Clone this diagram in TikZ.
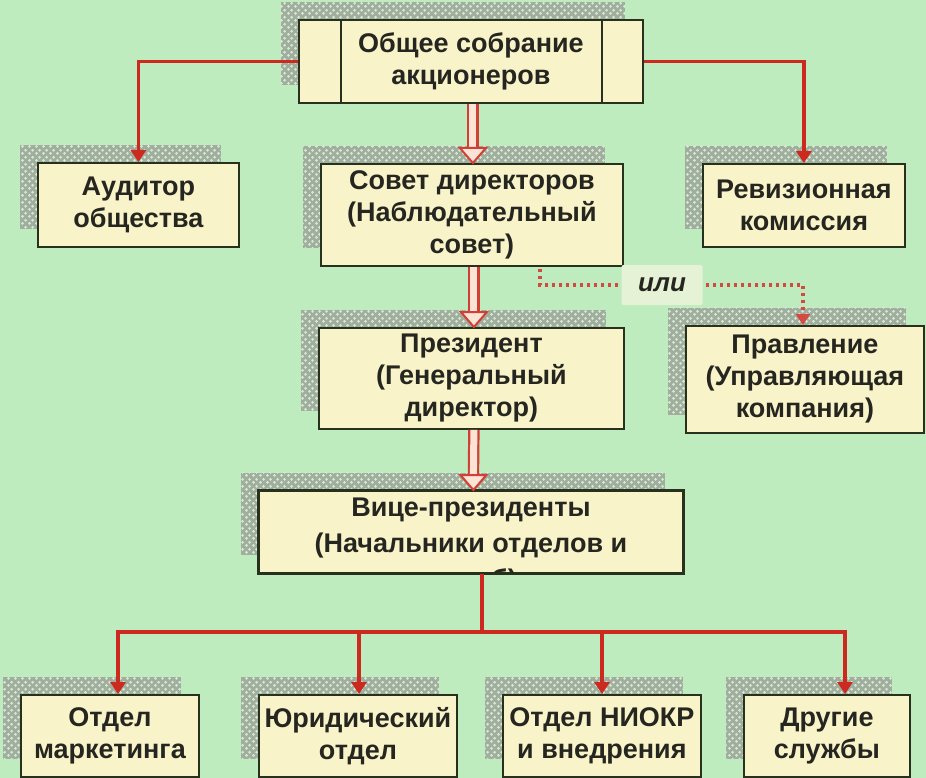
\documentclass[tikz,border=0pt]{standalone}
\usepackage{fontspec}
\setmainfont{Liberation Sans}
\usetikzlibrary{arrows.meta,shadows,patterns.meta,calc}
\definecolor{bg}{HTML}{BFECBF}
\definecolor{boxfill}{HTML}{F8F3C9}
\definecolor{boxline}{HTML}{28301E}
\definecolor{txt}{HTML}{262620}
\definecolor{lnred}{HTML}{CC2A1E}
\definecolor{dblfill}{HTML}{FBE3D6}
\definecolor{shadowgrey}{HTML}{A0AE9E}
\definecolor{knitlight}{HTML}{D8E8D4}
\definecolor{orfill}{HTML}{E6F2D6}
\tikzdeclarepattern{
  name=knit,
  type=uncolored,
  bounding box={(0pt,0pt) and (7pt,7pt)},
  tile size={(7pt,7pt)},
  code={
    \fill (1.75pt,1.75pt) circle (1.7pt);
    \fill (5.25pt,5.25pt) circle (1.7pt);
  }
}
\tikzset{
  orgbox/.style={draw=boxline, line width=1.8pt, fill=boxfill, text=txt,
    font=\bfseries\fontsize{27}{32}\selectfont, align=center, inner sep=0pt,
    anchor=north west,
    general shadow={shadow xshift=-18pt, shadow yshift=18pt, fill=shadowgrey},
    general shadow={shadow xshift=-18pt, shadow yshift=18pt, pattern=knit, pattern color=knitlight}},
  redline/.style={draw=lnred, line width=3.5pt},
  redarrow/.style={redline, -{Triangle[length=12pt,width=15pt]}},
  dotred/.style={draw=lnred!85!white, line width=3.5pt, dash pattern=on 3.5pt off 3.5pt,
    -{Triangle[length=11pt,width=14pt]}},
  dblshaft/.style={draw=lnred!90!white, line width=2.2pt, double=dblfill, double distance=7pt},
  dblhead/.style={draw=lnred!90!white, line width=2pt, fill=dblfill, line join=miter},
  ortext/.style={fill=orfill, text=txt, font=\bfseries\itshape\fontsize{26}{30}\selectfont,
    minimum width=81pt, minimum height=40pt, inner sep=0pt, rounded corners=2pt}
}
\begin{document}
\begin{tikzpicture}[x=1pt,y=-1pt]
\fill[bg] (0,0) rectangle (926,778);
\useasboundingbox (0,0) rectangle (926,778);

% boxes
\node[orgbox, minimum width=344pt, minimum height=83pt, text depth=6pt] (top) at (298,19) {Общее собрание\\акционеров};
\node[orgbox, minimum width=201pt, minimum height=84pt] (aud) at (37,162) {Аудитор\\общества};
\node[orgbox, minimum width=202pt, minimum height=83pt] (rev) at (702,163) {Ревизионная\\комиссия};
\node[orgbox, minimum width=302pt, minimum height=102pt] (sov) at (320,163) {Совет директоров\\(Наблюдательный\\совет)};
\node[orgbox, minimum width=305pt, minimum height=101pt] (pres) at (318,327) {Президент\\(Генеральный\\директор)};
\node[orgbox, minimum width=238pt, minimum height=107pt] (prav) at (685,325) {Правление\\(Управляющая\\компания)};
\node[orgbox, minimum width=424pt, minimum height=82pt] (vice) at (258,490) {};
\node[orgbox, minimum width=178pt, minimum height=82pt] (b1) at (20,694) {Отдел\\маркетинга};
\node[orgbox, minimum width=198pt, minimum height=82pt] (b2) at (258,694) {Юридический\\отдел};
\node[orgbox, minimum width=198pt, minimum height=82pt] (b3) at (502,694) {Отдел НИОКР\\и внедрения};
\node[orgbox, minimum width=166pt, minimum height=82pt] (b4) at (743,694) {Другие\\службы};

% clipped text of the vice-presidents box
\begin{scope}
\clip (vice.south west) rectangle (vice.north east);
\node[text=txt, font=\bfseries\fontsize{27}{36}\selectfont, align=center, inner sep=0pt]
  (vicetext) at ($(vice.center)+(0,14)$) {Вице-президенты\\(Начальники отделов и\\служб)};
\end{scope}
\draw[boxline, line width=1.8pt] (vice.south west) rectangle (vice.north east);

% inner lines of the top box
\draw[boxline, line width=1.8pt] ($(top.north west)+(43,0)$) -- ($(top.south west)+(43,0)$);
\draw[boxline, line width=1.8pt] ($(top.north east)+(-42,0)$) -- ($(top.south east)+(-42,0)$);

% red connectors from the meeting
\draw[redarrow] (top.west) -| (aud.north);
\draw[redarrow] (top.east) -| (rev.north);

% hollow double arrows
\draw[dblshaft] ($(top.south)+(2,0)$) -- ($(sov.north)+(1,-12)$);
\draw[dblhead] ($(sov.north)+(1,0)$) -- ++(-13,-15) -- ++(26,0) -- cycle;
\draw[dblshaft] ($(sov.south)+(2,0)$) -- ($(pres.north)+(2.5,-12)$);
\draw[dblhead] ($(pres.north)+(2.5,0)$) -- ++(-13,-15) -- ++(26,0) -- cycle;
\draw[dblshaft] ($(pres.south)+(2.5,0)$) -- ($(vice.north)+(2.5,-12)$);
\draw[dblhead] ($(vice.north)+(2.5,0)$) -- ++(-13,-15) -- ++(26,0) -- cycle;

% dotted "or" connector
\draw[dotred] ($(sov.south west)+(220,2)$) |- ($(prav.north)+(-2,-40)$) -- ($(prav.north)+(-2,0)$);
\node[ortext] (or) at (662,285) {или};

% bus to departments
\coordinate (busC) at ($(vice.south)+(11,60)$);
\coordinate (busL) at (118,632);
\coordinate (busR) at (845,632);
\coordinate (d2) at (359,632);
\coordinate (d3) at (602,632);
\draw[redline] ($(vice.south)+(11,0)$) -- (busC);
\draw[redline, line cap=rect] (busL) -- (busR);
\draw[redarrow] (busL) -- (busL |- b1.north);
\draw[redarrow] (d2) -- (d2 |- b2.north);
\draw[redarrow] (d3) -- (d3 |- b3.north);
\draw[redarrow] (busR) -- (busR |- b4.north);
\end{tikzpicture}
\end{document}
